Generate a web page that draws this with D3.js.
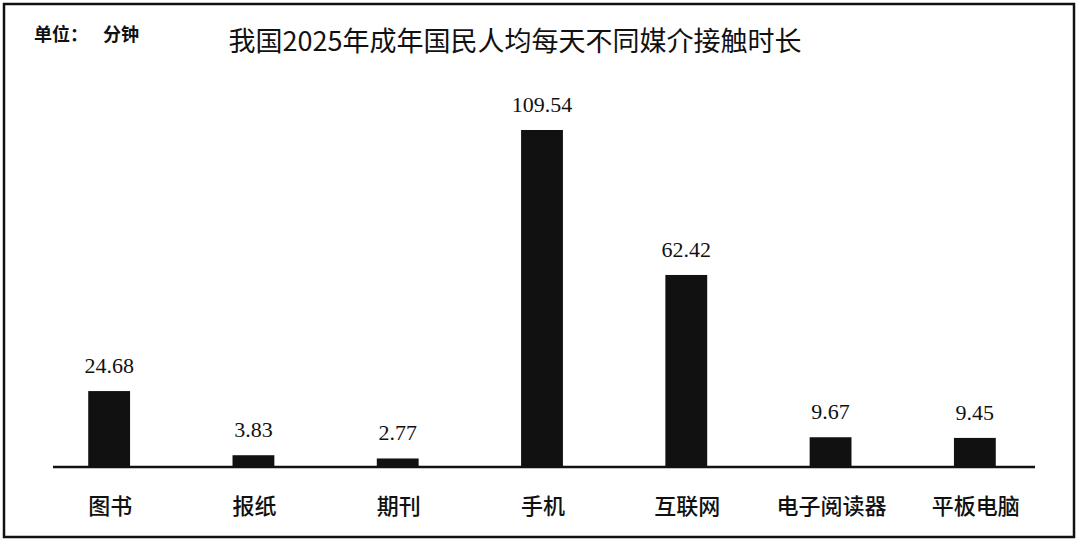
<!DOCTYPE html>
<meta charset="utf-8">
<style>
body { margin: 0; background: #fff; }
.value { font-family: "Liberation Serif", "DejaVu Serif", serif; font-size: 22px; fill: #111; }
.cat { font-family: "Noto Sans CJK SC", sans-serif; font-size: 22px; font-weight: 500; fill: #111; }
.title { font-family: "Noto Sans CJK SC", sans-serif; font-size: 27px; fill: #111; }
.unit { font-family: "Noto Sans CJK SC", sans-serif; font-size: 18px; font-weight: 700; fill: #111; }
</style>
<svg width="1080" height="544"></svg>
<script src="https://d3js.org/d3.v7.min.js"></script>
<script>

var categories = ["图书", "报纸", "期刊", "手机", "互联网", "电子阅读器", "平板电脑"];
var minutes = [24.68, 3.83, 2.77, 109.54, 62.42, 9.67, 9.45];
var valueLabels = ["24.68", "3.83", "2.77", "109.54", "62.42", "9.67", "9.45"];

var svg = d3.select("svg"),
    baseline = 467;

var data = categories.map(function(c, i) {
  return {cat: c, v: minutes[i], label: valueLabels[i]};
});

var x = d3.scaleBand()
    .domain(categories)
    .range([37, 1047])
    .paddingInner(0.71)
    .paddingOuter(0.355);

var y = d3.scaleLinear()
    .domain([0, 109.54])
    .range([baseline, 130]);

// frame
svg.append("rect")
    .attr("x", 4).attr("y", 4)
    .attr("width", 1070).attr("height", 533)
    .attr("fill", "none")
    .attr("stroke", "#111")
    .attr("stroke-width", 2.5);

var unit = svg.append("text")
    .attr("class", "unit")
    .attr("y", 41);
unit.append("tspan").attr("x", 34).text("单位：");
unit.append("tspan").attr("x", 103).text("分钟");

svg.append("text")
    .attr("class", "title")
    .attr("x", 515).attr("y", 51)
    .attr("text-anchor", "middle")
    .text("我国2025年成年国民人均每天不同媒介接触时长");

svg.selectAll(".bar")
  .data(data)
  .enter().append("rect")
    .attr("class", "bar")
    .attr("x", function(d) { return x(d.cat); })
    .attr("y", function(d) { return y(d.v); })
    .attr("width", x.bandwidth())
    .attr("height", function(d) { return baseline - y(d.v); })
    .attr("fill", "#111");

// baseline
svg.append("line")
    .attr("x1", 53).attr("x2", 1035)
    .attr("y1", baseline).attr("y2", baseline)
    .attr("stroke", "#111")
    .attr("stroke-width", 2.5);

svg.selectAll(".value")
  .data(data)
  .enter().append("text")
    .attr("class", "value")
    .attr("x", function(d) { return x(d.cat) + x.bandwidth() / 2; })
    .attr("y", function(d) { return y(d.v) - 18; })
    .attr("text-anchor", "middle")
    .text(function(d) { return d.label; });

svg.selectAll(".cat")
  .data(data)
  .enter().append("text")
    .attr("class", "cat")
    .attr("x", function(d) { return x(d.cat) + x.bandwidth() / 2 + 1; })
    .attr("y", 514)
    .attr("text-anchor", "middle")
    .text(function(d) { return d.cat; });

</script>
